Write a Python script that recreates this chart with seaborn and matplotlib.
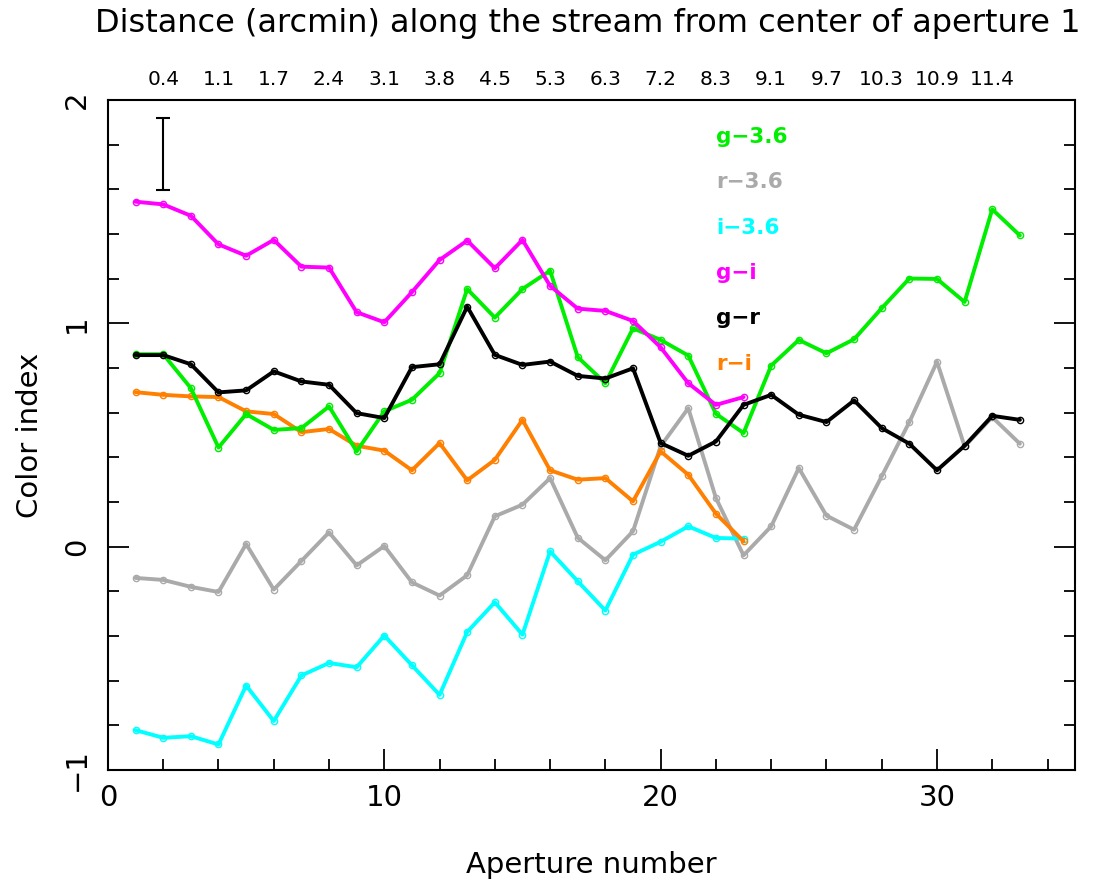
import numpy as np
import pandas as pd
import matplotlib
matplotlib.use("Agg")
import matplotlib.pyplot as plt
import seaborn as sns
from matplotlib.ticker import MultipleLocator

sns.set_theme(style="ticks")
plt.rcParams['font.family'] = ['DejaVu Sans']
plt.rcParams['text.color'] = 'black'
plt.rcParams['axes.labelcolor'] = 'black'
plt.rcParams['xtick.color'] = 'black'
plt.rcParams['ytick.color'] = 'black'

aperture_long = list(range(1, 34))
aperture_short = list(range(1, 24))

g_36 = [0.862, 0.862, 0.710, 0.444, 0.594, 0.523, 0.531, 0.628, 0.427, 0.606,
        0.658, 0.777, 1.154, 1.026, 1.154, 1.236, 0.849, 0.732, 0.978, 0.926,
        0.856, 0.595, 0.509, 0.811, 0.926, 0.866, 0.929, 1.068, 1.201, 1.199,
        1.096, 1.511, 1.394]
r_36 = [-0.140, -0.149, -0.180, -0.203, 0.012, -0.192, -0.064, 0.064, -0.084, 0.003,
        -0.160, -0.219, -0.128, 0.136, 0.188, 0.307, 0.040, -0.061, 0.069, 0.450,
        0.620, 0.218, -0.039, 0.091, 0.352, 0.139, 0.076, 0.315, 0.558, 0.828,
        0.449, 0.580, 0.461]
i_36 = [-0.822, -0.856, -0.849, -0.886, -0.622, -0.781, -0.577, -0.521, -0.540, -0.398,
        -0.531, -0.664, -0.382, -0.249, -0.394, -0.021, -0.155, -0.286, -0.036, 0.022,
        0.091, 0.039, 0.036]
g_i = [1.545, 1.533, 1.482, 1.354, 1.303, 1.374, 1.254, 1.250, 1.050, 1.005,
       1.140, 1.284, 1.371, 1.247, 1.374, 1.168, 1.066, 1.056, 1.011, 0.893,
       0.732, 0.635, 0.670]
g_r = [0.858, 0.858, 0.817, 0.691, 0.700, 0.785, 0.740, 0.725, 0.598, 0.576,
       0.804, 0.817, 1.075, 0.859, 0.814, 0.829, 0.765, 0.753, 0.799, 0.464,
       0.407, 0.471, 0.635, 0.680, 0.591, 0.558, 0.655, 0.531, 0.461, 0.342,
       0.452, 0.586, 0.568]
r_i = [0.692, 0.680, 0.673, 0.670, 0.606, 0.594, 0.513, 0.527, 0.452, 0.430,
       0.342, 0.464, 0.297, 0.389, 0.568, 0.342, 0.300, 0.307, 0.203, 0.427,
       0.322, 0.148, 0.024]

top_tick_pos = list(range(2, 34, 2))
top_tick_labels = ["0.4", "1.1", "1.7", "2.4", "3.1", "3.8", "4.5", "5.3", "6.3",
                   "7.2", "8.3", "9.1", "9.7", "10.3", "10.9", "11.4"]

err_x = 2
err_y = 1.758
err_half = 0.161

series = [
    ("g\u22123.6", aperture_long, g_36, "#00ee00"),
    ("r\u22123.6", aperture_long, r_36, "#aaaaaa"),
    ("i\u22123.6", aperture_short, i_36, "#00ffff"),
    ("g\u2212i", aperture_short, g_i, "#ff00ff"),
    ("g\u2212r", aperture_long, g_r, "#000000"),
    ("r\u2212i", aperture_short, r_i, "#ff7f00"),
]
draw_order = ["r\u22123.6", "i\u22123.6", "r\u2212i", "g\u22123.6", "g\u2212i", "g\u2212r"]

frames = []
for name, xs, ys, col in series:
    frames.append(pd.DataFrame({"aperture": xs, "color_index": ys, "band": name}))
df = pd.concat(frames, ignore_index=True)
palette = {name: col for name, xs, ys, col in series}

fig = plt.figure(figsize=(11.13, 8.86), dpi=100)
ax = fig.add_axes([0.097, 0.131, 0.869, 0.756])

for name in draw_order:
    sub = df[df["band"] == name]
    sns.lineplot(data=sub, x="aperture", y="color_index", color=palette[name],
                 marker="o", markersize=4.5, markeredgecolor=palette[name],
                 markerfacecolor="none", markeredgewidth=1.0,
                 linewidth=2.8, ax=ax, legend=False, sort=False)

ax.errorbar([err_x], [err_y], yerr=[err_half], color="black", capsize=5,
            elinewidth=1.5, capthick=1.5, fmt="none")

ly = 1.835
for name, xs, ys, col in series:
    ax.text(22.0, ly, name, color=col, fontsize=15.5, fontweight="bold",
            va="center", ha="left")
    ly -= 0.203

ax.set_xlim(0, 35)
ax.set_ylim(-1, 2)
ax.xaxis.set_major_locator(MultipleLocator(10))
ax.xaxis.set_minor_locator(MultipleLocator(2))
ax.yaxis.set_major_locator(MultipleLocator(1))
ax.yaxis.set_minor_locator(MultipleLocator(0.2))
ax.tick_params(which="both", direction="in", top=True, right=True, color="black",
               width=1.3)
ax.tick_params(which="major", length=15, labelsize=21, pad=10)
ax.tick_params(which="minor", length=8)
ax.tick_params(axis="x", labeltop=False)
ax.tick_params(axis="y", labelrotation=90, pad=12)
for lab in ax.get_yticklabels():
    lab.set_va("center")
for sp in ax.spines.values():
    sp.set_color("black")
    sp.set_linewidth(1.5)

ax.set_xlabel("Aperture number", fontsize=21, labelpad=28)
ax.set_ylabel("Color index", fontsize=21, labelpad=14)

ax2 = ax.twiny()
ax2.set_xlim(ax.get_xlim())
ax2.set_xticks(top_tick_pos)
ax2.set_xticklabels(top_tick_labels, fontsize=14.5)
ax2.tick_params(axis="x", length=0, pad=8)
for sp in ax2.spines.values():
    sp.set_visible(False)

fig.text(0.528, 0.974, "Distance (arcmin) along the stream from center of aperture 1",
         ha="center", va="center", fontsize=23)

fig.savefig("out.png", dpi=100, facecolor="white")
